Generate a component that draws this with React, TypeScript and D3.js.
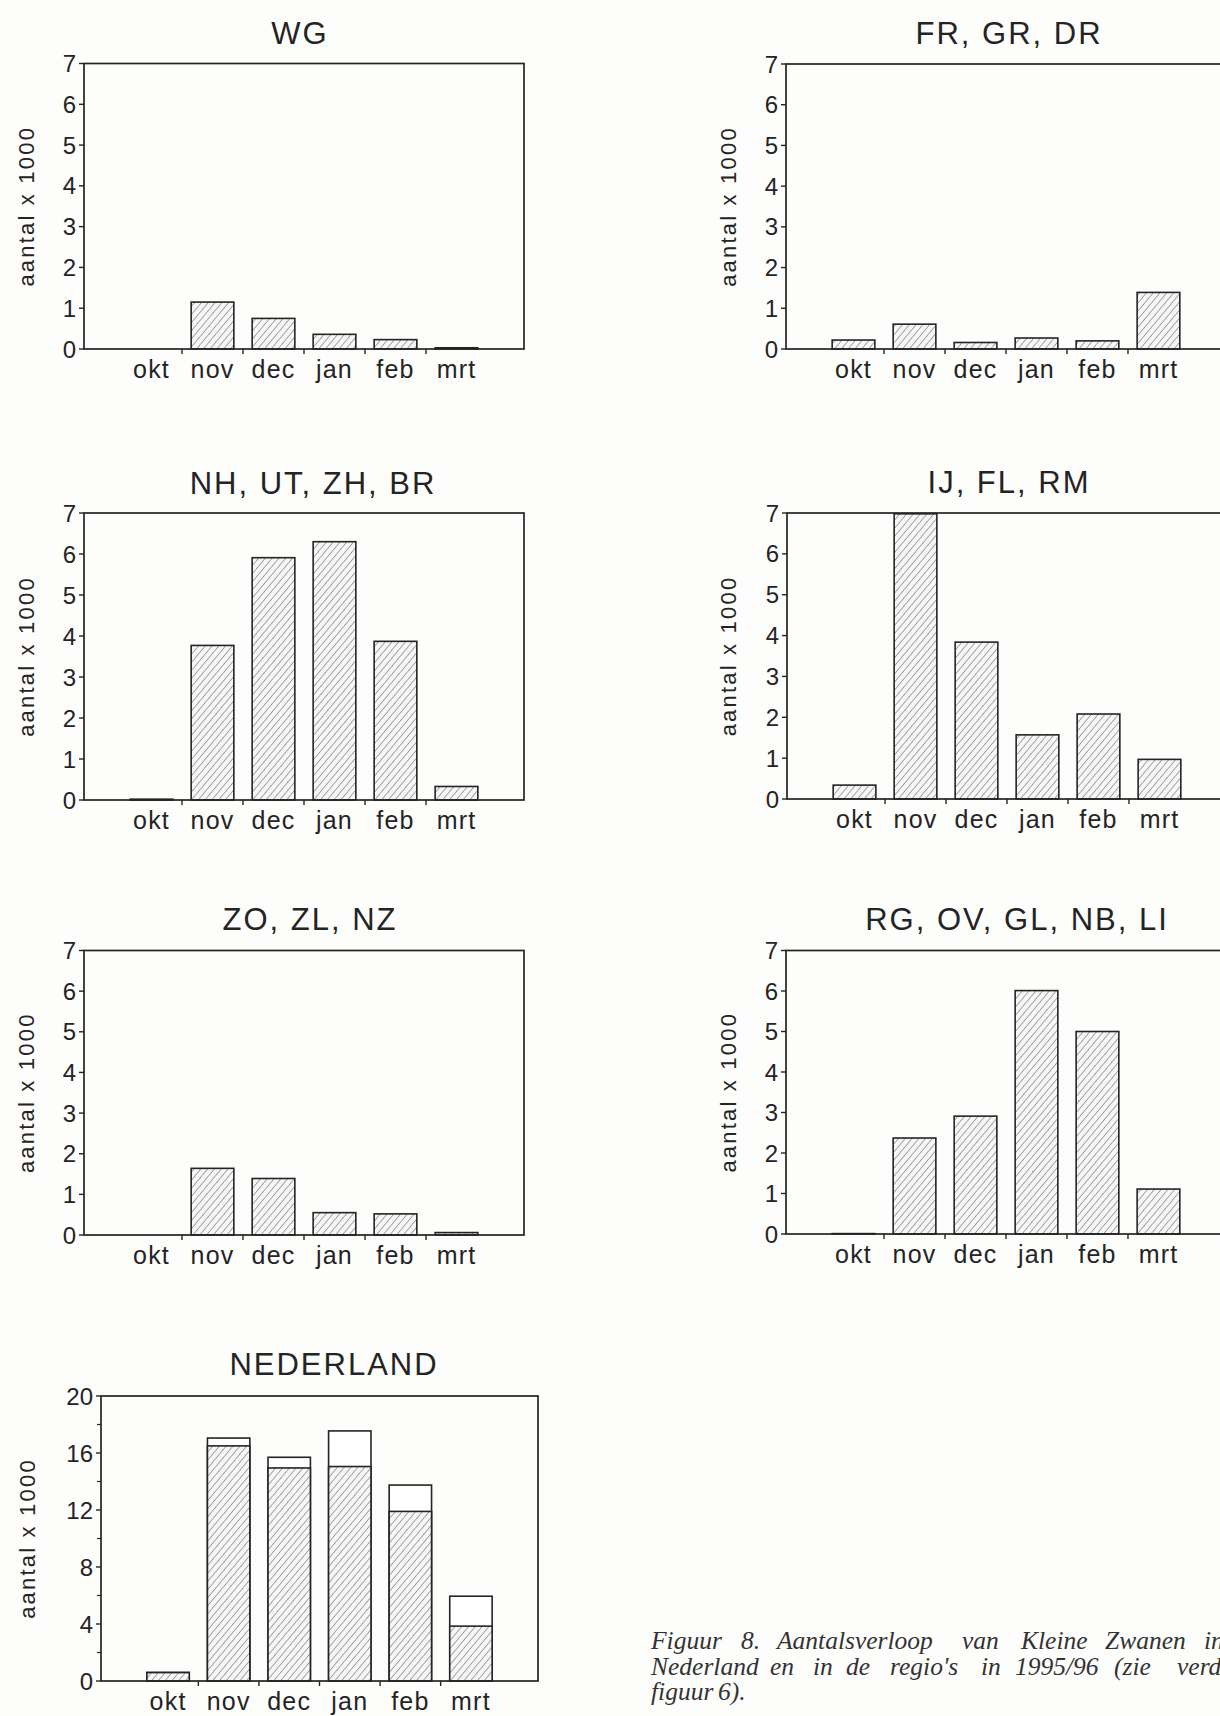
import React from 'react';
import * as d3 from 'd3';

// ---------- data ----------
const months = ['okt', 'nov', 'dec', 'jan', 'feb', 'mrt'];
const wgValues = [0, 1.15, 0.75, 0.36, 0.23, 0.03];
const frGrDrValues = [0.22, 0.61, 0.16, 0.27, 0.2, 1.39];
const nhUtZhBrValues = [0.02, 3.77, 5.91, 6.3, 3.87, 0.33];
const ijFlRmValues = [0.34, 6.98, 3.84, 1.57, 2.08, 0.97];
const zoZlNzValues = [0, 1.64, 1.39, 0.55, 0.52, 0.06];
const rgOvGlNbLiValues = [0.01, 2.37, 2.91, 6.01, 5.0, 1.11];
const nlCountedValues = [0.59, 16.5, 14.95, 15.05, 11.9, 3.85];
const nlTotalValues = [0.6, 17.05, 15.7, 17.55, 13.75, 5.95];
const regionTicks = [0, 1, 2, 3, 4, 5, 6, 7];
const nlTicks = [0, 4, 8, 12, 16, 20];
const nlMinorTicks = [2, 6, 10, 14, 18];
const yAxisLabel = 'aantal x 1000';
const captionLines = [
  ['Figuur', '8.', 'Aantalsverloop', 'van', 'Kleine', 'Zwanen', 'in'],
  ['Nederland', 'en', 'in', 'de', "regio's", 'in', '1995/96', '(zie', 'verder'],
  ['figuur', '6).'],
];

// ---------- layout ----------
const W = 1220;
const H = 1716;
const SANS = '"Liberation Sans", Arial, Helvetica, sans-serif';
const SERIF = '"Liberation Serif", "Times New Roman", serif';
const INK = '#242424';

const panels = [
  { title: 'WG', values: wgValues, left: 84, width: 440, top: 63.5, bottom: 349, titleX: 300, titleY: 44, labelX: 26 },
  { title: 'FR, GR, DR', values: frGrDrValues, left: 786, width: 440, top: 64, bottom: 349, titleX: 1009, titleY: 44, labelX: 728 },
  { title: 'NH, UT, ZH, BR', values: nhUtZhBrValues, left: 84, width: 440, top: 513, bottom: 800, titleX: 313, titleY: 494, labelX: 26 },
  { title: 'IJ, FL, RM', values: ijFlRmValues, left: 787, width: 440, top: 513, bottom: 799, titleX: 1009, titleY: 493, labelX: 728 },
  { title: 'ZO, ZL, NZ', values: zoZlNzValues, left: 84, width: 440, top: 950.5, bottom: 1235, titleX: 310, titleY: 930, labelX: 26 },
  { title: 'RG, OV, GL, NB, LI', values: rgOvGlNbLiValues, left: 786, width: 440, top: 950.5, bottom: 1234, titleX: 1017, titleY: 930, labelX: 728 },
];

const nlPanel = { title: 'NEDERLAND', left: 101, width: 437, top: 1396, bottom: 1681, titleX: 334, titleY: 1375, labelX: 27 };

const captionLayout = {
  x: [
    [651, 741, 777, 962, 1021, 1105, 1204],
    [651, 770, 813, 846, 890, 981, 1015, 1114, 1177],
    [651, 718],
  ],
  y: [1649, 1675, 1700],
};

function bandScale(left: number, width: number) {
  return d3
    .scaleBand<string>()
    .domain(months)
    .range([left, left + width])
    .paddingInner(0.3)
    .paddingOuter(0.757);
}

function Axes({ x, y, left, right, top, bottom, ticks, minorTicks, labelX, title, titleX, titleY }: any) {
  const step = x.step();
  const boundaries = months.slice(1).map((m) => (x(m) as number) - (step * x.paddingInner()) / 2);
  const midY = (top + bottom) / 2;
  return (
    <g>
      <text x={titleX} y={titleY} textAnchor="middle" fontFamily={SANS} fontSize={31} fill={INK} letterSpacing={2}>
        {title}
      </text>
      <rect x={left} y={top} width={right - left} height={bottom - top} fill="none" stroke={INK} strokeWidth={1.7} />
      {ticks.map((t: number) => (
        <g key={'t' + t}>
          <line x1={left - 5} x2={left} y1={y(t)} y2={y(t)} stroke={INK} strokeWidth={1.4} />
          <text x={left - 8} y={y(t)} dy="0.36em" textAnchor="end" fontFamily={SANS} fontSize={24} fill={INK}>
            {t}
          </text>
        </g>
      ))}
      {(minorTicks || []).map((t: number) => (
        <line key={'m' + t} x1={left - 4} x2={left} y1={y(t)} y2={y(t)} stroke={INK} strokeWidth={1.2} />
      ))}
      {boundaries.map((b: number, i: number) => (
        <line key={'b' + i} x1={b} x2={b} y1={bottom} y2={bottom + 5} stroke={INK} strokeWidth={1.4} />
      ))}
      {months.map((m) => (
        <text
          key={'l' + m}
          x={(x(m) as number) + x.bandwidth() / 2}
          y={bottom + 29}
          textAnchor="middle"
          fontFamily={SANS}
          fontSize={25}
          letterSpacing={1.2}
          fill={INK}
        >
          {m}
        </text>
      ))}
      <text
        transform={`translate(${labelX},${midY}) rotate(-90)`}
        textAnchor="middle"
        dy="0.35em"
        fontFamily={SANS}
        fontSize={22}
        letterSpacing={2.2}
        fill={INK}
      >
        {yAxisLabel}
      </text>
    </g>
  );
}

function RegionPanel({ cfg }: any) {
  const x = bandScale(cfg.left, cfg.width);
  const y = d3.scaleLinear().domain([0, 7]).range([cfg.bottom, cfg.top]);
  return (
    <g>
      {months.map((m, i) =>
        cfg.values[i] > 0 ? (
          <rect
            key={m}
            x={x(m)}
            y={y(cfg.values[i])}
            width={x.bandwidth()}
            height={y(0) - y(cfg.values[i])}
            fill="url(#hatch)"
            stroke={INK}
            strokeWidth={1.6}
          />
        ) : null
      )}
      <Axes
        x={x}
        y={y}
        left={cfg.left}
        right={cfg.left + cfg.width}
        top={cfg.top}
        bottom={cfg.bottom}
        ticks={regionTicks}
        labelX={cfg.labelX}
        title={cfg.title}
        titleX={cfg.titleX}
        titleY={cfg.titleY}
      />
    </g>
  );
}

function NederlandPanel() {
  const cfg = nlPanel;
  const x = bandScale(cfg.left, cfg.width);
  const y = d3.scaleLinear().domain([0, 20]).range([cfg.bottom, cfg.top]);
  return (
    <g>
      {months.map((m, i) => (
        <g key={m}>
          <rect
            x={x(m)}
            y={y(nlTotalValues[i])}
            width={x.bandwidth()}
            height={y(0) - y(nlTotalValues[i])}
            fill="#ffffff"
            stroke={INK}
            strokeWidth={1.6}
          />
          <rect
            x={x(m)}
            y={y(nlCountedValues[i])}
            width={x.bandwidth()}
            height={y(0) - y(nlCountedValues[i])}
            fill="url(#hatch)"
            stroke={INK}
            strokeWidth={1.6}
          />
        </g>
      ))}
      <Axes
        x={x}
        y={y}
        left={cfg.left}
        right={cfg.left + cfg.width}
        top={cfg.top}
        bottom={cfg.bottom}
        ticks={nlTicks}
        minorTicks={nlMinorTicks}
        labelX={cfg.labelX}
        title={cfg.title}
        titleX={cfg.titleX}
        titleY={cfg.titleY}
      />
    </g>
  );
}

export default function App() {
  return (
    <svg
      width={W}
      height={H}
      viewBox={`0 0 ${W} ${H}`}
      style={{ position: 'absolute', left: 0, top: 0, background: '#fdfdfc' }}
    >
      <defs>
        <pattern id="hatch" patternUnits="userSpaceOnUse" width={5.2} height={5.2} patternTransform="rotate(40)">
          <rect width={5.2} height={5.2} fill="#f6f6f6" />
          <line x1={0} y1={0} x2={0} y2={5.2} stroke="#555" strokeWidth={1} />
        </pattern>
      </defs>
      <rect width={W} height={H} fill="#fdfdfc" />
      {panels.map((p) => (
        <RegionPanel key={p.title} cfg={p} />
      ))}
      <NederlandPanel />
      <g fontFamily={SERIF} fontStyle="italic" fontSize={25.5} fill="#333">
        {captionLines.map((words, li) => (
          <text key={li} y={captionLayout.y[li]}>
            {words.map((w, wi) => (
              <tspan key={wi} x={captionLayout.x[li][wi]}>
                {w}
              </tspan>
            ))}
          </text>
        ))}
      </g>
    </svg>
  );
}
